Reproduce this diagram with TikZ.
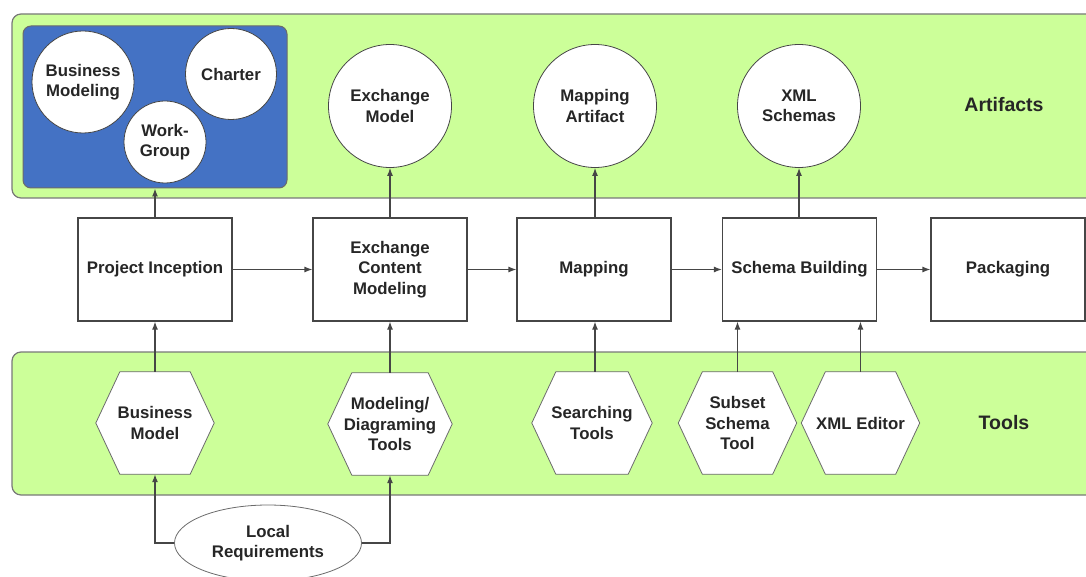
\documentclass[tikz,border=0pt]{standalone}
\usepackage{fontspec}
\setmainfont{Liberation Sans}
\usetikzlibrary{arrows.meta,shapes.geometric}
\definecolor{bandgreen}{RGB}{204,255,153}
\definecolor{teamblue}{RGB}{68,114,196}
\definecolor{edge}{RGB}{70,70,70}
\definecolor{bandedge}{RGB}{120,120,120}
\pgfdeclarelayer{back}
\pgfdeclarelayer{mid}
\pgfsetlayers{back,mid,main}
\begin{document}
\begin{tikzpicture}[x=1pt,y=-1pt,
  lbl/.style={font=\fontsize{16.8}{20.5}\selectfont\bfseries, text=black!85, align=center},
  band/.style={draw=bandedge, line width=1.2pt, fill=bandgreen, rounded corners=9pt, inner sep=0pt},
  team/.style={draw=edge!80, line width=1pt, fill=teamblue, rounded corners=8pt, inner sep=0pt},
  art/.style={lbl, circle, draw=edge, line width=0.8pt, fill=white, inner sep=0pt},
  stage/.style={lbl, draw=edge, line width=1.2pt, fill=white, minimum width=154pt, minimum height=103pt, inner sep=0pt},
  tool/.style={lbl, rectangle, minimum width=#1, minimum height=102pt, inner sep=0pt},
  tool/.default=118pt,
  hexline/.style={draw=edge!80, line width=0.8pt, fill=white},
  req/.style={lbl, ellipse, draw=edge!80, line width=0.8pt, fill=white, minimum width=187pt, minimum height=76pt, inner sep=0pt},
  tag/.style={font=\fontsize{19.5}{23}\selectfont\bfseries, text=black!85},
  arr/.style={draw=edge, line width=1.2pt, -{Latex[length=8pt,width=6pt]}}
]
\useasboundingbox (0,0) rectangle (1086,577);
\clip (0,0) rectangle (1086,577);

% background bands
\begin{pgfonlayer}{back}
\node[band, minimum width=1090pt, minimum height=184pt] (artband) at (557,106) {};
\node[band, minimum width=1090pt, minimum height=143pt] (toolband) at (557,423.5) {};
\end{pgfonlayer}
\node[tag] (artlbl) at (1004,105) {Artifacts};
\node[tag] (toollbl) at (1004,423) {Tools};

% inception artifacts
\node[team, minimum width=264pt, minimum height=162pt] (team) at (155,107) {};
\node[art, minimum size=102pt] (bmod) at (83,82) {Business\\Modeling};
\node[art, minimum size=91pt] (charter) at (231,74) {Charter};
\node[art, minimum size=82pt] (wg) at (165,142) {Work-\\Group};

% artifacts
\node[art, minimum size=123pt] (em) at (390,106) {Exchange\\Model};
\node[art, minimum size=123pt] (ma) at (595,106) {Mapping\\Artifact};
\node[art, minimum size=123pt] (xs) at (799,106) {XML\\Schemas};

% process stages
\node[stage] (pi) at (155,269.5) {Project Inception};
\node[stage] (ecm) at (390,269.5) {Exchange\\Content\\Modeling};
\node[stage] (map) at (594,269.5) {Mapping};
\node[stage] (sb) at (799.5,269.5) {Schema Building};
\node[stage] (pack) at (1008,269.5) {Packaging};

% tools (hexagon outlines drawn behind the labels)
\node[tool] (bm) at (155,423) {Business\\Model};
\node[tool=124pt] (mdt) at (390,424) {Modeling/\\Diagraming\\Tools};
\node[tool=120pt] (st) at (592,423) {Searching\\Tools};
\node[tool] (sst) at (737.5,423) {Subset\\Schema\\Tool};
\node[tool] (xe) at (860.5,423) {XML Editor};
\begin{pgfonlayer}{mid}
\foreach \h in {bm,mdt,st,sst,xe}
  \path[hexline] (\h.west) -- ([xshift=24pt]\h.north west) -- ([xshift=-24pt]\h.north east)
    -- (\h.east) -- ([xshift=-24pt]\h.south east) -- ([xshift=24pt]\h.south west) -- cycle;
\end{pgfonlayer}

% requirements
\node[req] (lr) at (268,543) {Local\\Requirements};

% flow between stages
\draw[arr] (pi) -- (ecm);
\draw[arr] (ecm) -- (map);
\draw[arr] (map) -- (sb);
\draw[arr] (sb) -- (pack);

% stages produce artifacts
\draw[arr] (pi.north) -- (team.south);
\draw[arr] (ecm.north) -- (em.south);
\draw[arr] (map.north -| ma.south) -- (ma.south);
\draw[arr] (sb.north -| xs.south) -- (xs.south);

% tools support stages
\draw[arr] (bm.north) -- (pi.south);
\draw[arr] (mdt.north) -- (ecm.south);
\draw[arr] (ma.south |- st.north) -- (ma.south |- map.south);
\draw[arr] (sst.north) -- (sst.north |- sb.south);
\draw[arr] (xe.north) -- (xe.north |- sb.south);

% local requirements feed tools
\draw[arr] (lr.west) -| (bm.south);
\draw[arr] (lr.east) -| (mdt.south);
\end{tikzpicture}
\end{document}
